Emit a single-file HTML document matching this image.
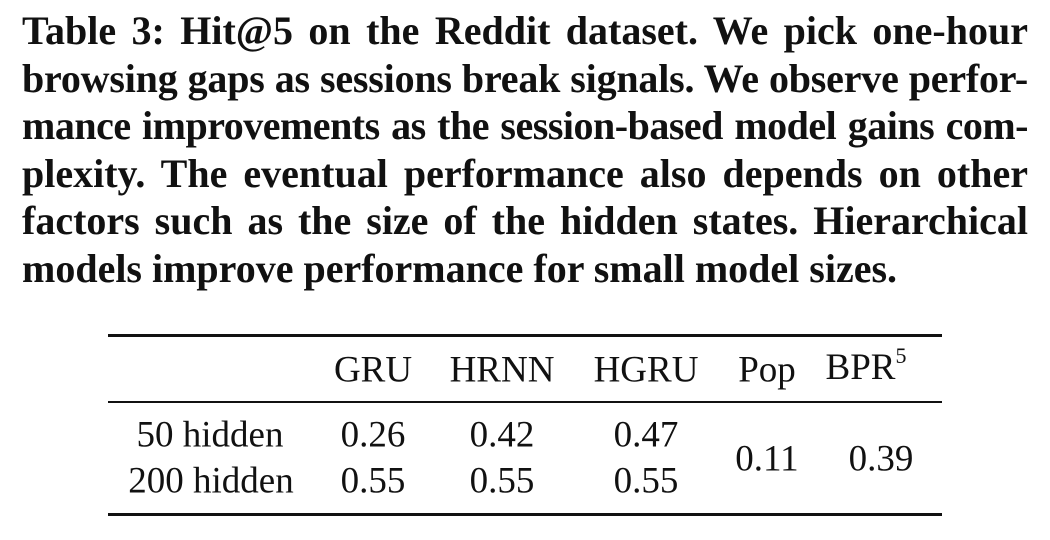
<!DOCTYPE html>
<html><head><meta charset="utf-8">
<style>
html,body{margin:0;padding:0;background:#fff;}
body{width:1050px;height:540px;position:relative;overflow:hidden;font-family:"Liberation Serif",serif;color:#111;}
.cap{position:absolute;left:22px;width:1006px;font-weight:bold;font-size:40px;line-height:47.6px;}
.cap div{text-align:justify;text-align-last:justify;white-space:nowrap;height:47.6px;}
.cap div.last{text-align-last:left;}
.rule{position:absolute;left:108px;width:834px;background:#111;}
.c{position:absolute;font-size:37px;transform:translate(-50%,-50%);white-space:nowrap;}
sup{font-size:22px;vertical-align:16px;}
</style></head><body>
<div class="cap" style="top:7px">
<div>Table 3: Hit@5 on the Reddit dataset. We pick one-hour</div>
<div style="letter-spacing:-0.2px">browsing gaps as sessions break signals. We observe perfor-</div>
<div style="letter-spacing:-0.5px">mance improvements as the session-based model gains com-</div>
<div>plexity. The eventual performance also depends on other</div>
<div>factors such as the size of the hidden states. Hierarchical</div>
<div class="last">models improve performance for small model sizes.</div>
</div>
<div class="rule" style="top:334px;height:3px"></div>
<div class="rule" style="top:401px;height:1.5px"></div>
<div class="rule" style="top:513px;height:3px"></div>
<div class="c" style="left:373px;top:370px">GRU</div>
<div class="c" style="left:502px;top:370px">HRNN</div>
<div class="c" style="left:646px;top:370px">HGRU</div>
<div class="c" style="left:767px;top:370px">Pop</div>
<div class="c" style="left:866px;top:366px">BPR<sup>5</sup></div>
<div class="c" style="left:210px;top:435px">50 hidden</div>
<div class="c" style="left:211px;top:481px">200 hidden</div>
<div class="c" style="left:373px;top:435px">0.26</div>
<div class="c" style="left:502px;top:435px">0.42</div>
<div class="c" style="left:646px;top:435px">0.47</div>
<div class="c" style="left:373px;top:481px">0.55</div>
<div class="c" style="left:502px;top:481px">0.55</div>
<div class="c" style="left:646px;top:481px">0.55</div>
<div class="c" style="left:767px;top:459px">0.11</div>
<div class="c" style="left:881px;top:459px">0.39</div>
</body></html>
